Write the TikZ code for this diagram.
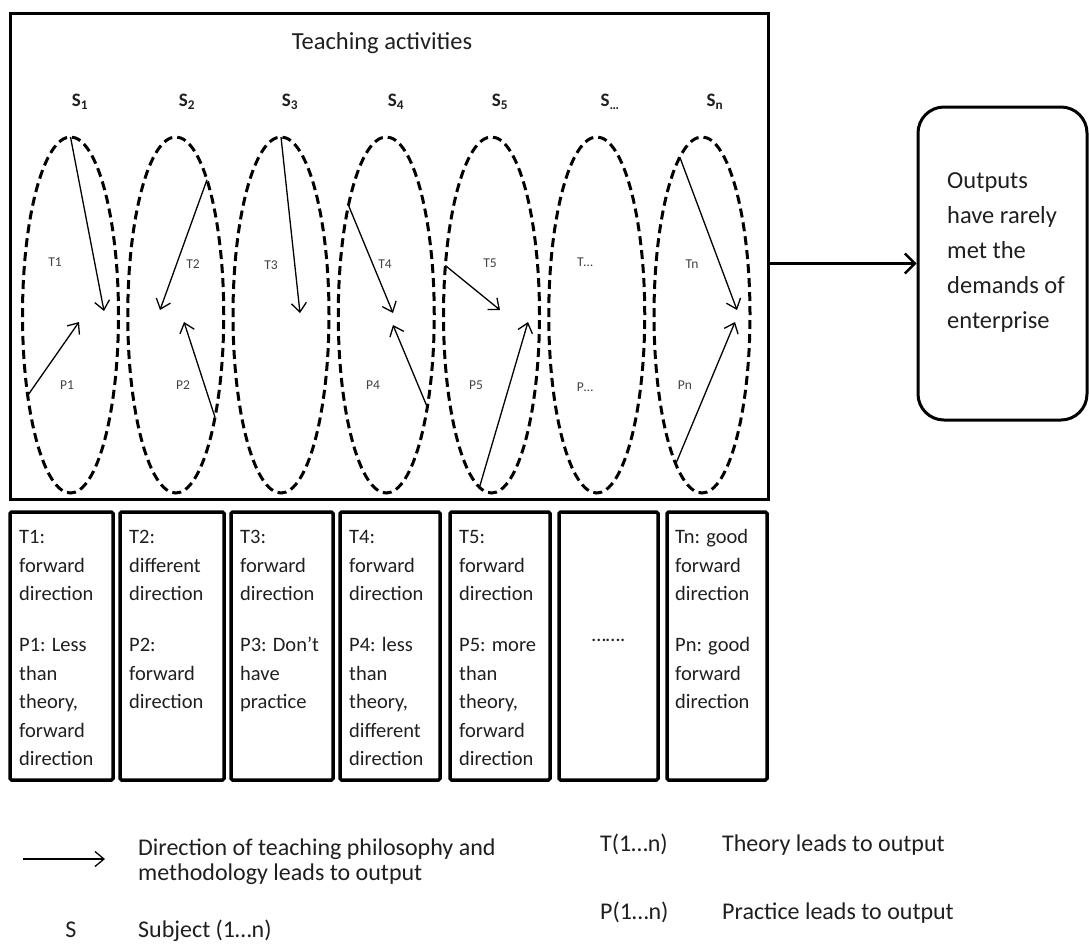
\documentclass[tikz,border=0pt]{standalone}
\usepackage{fontspec}
\setmainfont{Carlito}
\usetikzlibrary{arrows.meta,shapes.geometric,calc}
\definecolor{txt}{gray}{0.12}
\begin{document}
\begin{tikzpicture}[x=1pt,y=-1pt,
  ell/.style={ellipse, draw, line width=3pt, dash pattern=on 9pt off 5pt,
    minimum width=96pt, minimum height=356pt, inner sep=0pt, outer sep=0pt},
  parr/.style={line width=1.3pt, -{Straight Barb[length=9pt,width=15pt]}},
  mainarr/.style={line width=2.4pt, -{Straight Barb[length=10pt,width=20pt]}},
  legarr/.style={line width=1.3pt, -{Straight Barb[length=9pt,width=15pt]}},
  slab/.style={font=\bfseries\fontsize{19}{22}\selectfont, text=txt, inner sep=0pt},
  tlab/.style={font=\fontsize{13.5}{16}\selectfont, text=black!75, inner sep=0pt},
  bigbox/.style={draw, line width=3pt, inner sep=0pt},
  colbox/.style={draw, line width=3.5pt, rounded corners=1.5pt, inner sep=0pt,
    minimum height=268pt},
  boxtext/.style={anchor=north west, inner sep=0pt, align=left, text=txt,
    font=\fontsize{20.5}{28.5}\selectfont},
  legtext/.style={inner sep=0pt, text=txt, font=\fontsize{24}{25}\selectfont},
]
\useasboundingbox (0,0) rectangle (1089,943);

% main box
\node[bigbox, minimum width=758pt, minimum height=486pt] (main) at (389,256) {};
\node[inner sep=0pt, anchor=base, text=txt, font=\fontsize{24.5}{28}\selectfont] (title) at (382,49) {Teaching activities};

% subject labels
\node[slab] (s1) at (80,102) {S\textsubscript{1}};
\node[slab] (s2) at (187,102) {S\textsubscript{2}};
\node[slab] (s3) at (290,102) {S\textsubscript{3}};
\node[slab] (s4) at (396,102) {S\textsubscript{4}};
\node[slab] (s5) at (500,102) {S\textsubscript{5}};
\node[slab] (s6) at (610,102) {S\textsubscript{…}};
\node[slab] (s7) at (715,102) {S\textsubscript{n}};

% ellipses
\node[ell] (e1) at (70.5,315) {};
\node[ell] (e2) at (175.75,315) {};
\node[ell] (e3) at (281,315) {};
\node[ell] (e4) at (386.25,315) {};
\node[ell] (e5) at (491.5,315) {};
\node[ell] (e6) at (596.75,315) {};
\node[ell] (e7) at (702,315) {};

% arrow ends
\coordinate (t1) at (104,311); \coordinate (p1) at (79,322);
\coordinate (t2) at (160,310); \coordinate (p2) at (184,322);
\coordinate (t3) at (300,313);
\coordinate (t4) at (393,313); \coordinate (p4) at (393,325);
\coordinate (t5) at (500,310); \coordinate (p5) at (528,322);
\coordinate (tn) at (737,310); \coordinate (pn) at (735,322);

\draw[parr] (e1.north) -- (t1);
\draw[parr] (e1.242) -- (p1);
\draw[parr] (e2.77) -- (t2);
\draw[parr] (e2.291) -- (p2);
\draw[parr] (e3.north) -- (t3);
\draw[parr] (e4.109) -- (t4);
\draw[parr] (e4.294) -- (p4);
\draw[parr] (e5.133) -- (t5);
\draw[parr] (e5.266) -- (p5);
\draw[parr] (e7.98) -- (tn);
\draw[parr] (e7.260) -- (pn);

% T/P labels
\node[tlab] (lt1) at (55,262) {T1};
\node[tlab] (lp1) at (67,385) {P1};
\node[tlab] (lt2) at (193,264) {T2};
\node[tlab] (lp2) at (183,385) {P2};
\node[tlab] (lt3) at (271,265) {T3};
\node[tlab] (lt4) at (385,264) {T4};
\node[tlab] (lp4) at (373,385) {P4};
\node[tlab] (lt5) at (490,263) {T5};
\node[tlab] (lp5) at (476,385) {P5};
\node[tlab] (lt6) at (585,262) {T…};
\node[tlab] (lp6) at (585,387) {P…};
\node[tlab] (lt7) at (692,264) {Tn};
\node[tlab] (lp7) at (685,385) {Pn};

% output box
\node[draw, line width=3pt, rounded corners=26pt, minimum width=169pt, minimum height=313pt, inner sep=0pt] (out) at (1002.5,263.5) {};
\node[anchor=north west, inner sep=0pt, align=left, text=txt, font=\fontsize{24.5}{35}\selectfont] (outtext) at (947,163.5) {\strut Outputs\\have rarely\\met the\\demands of\\enterprise};
\draw[mainarr] (main.east |- out.west) -- (out.west);

% bottom boxes
\node[colbox, minimum width=103pt] (b1) at (61.5,646) {};
\node[colbox, minimum width=104pt] (b2) at (172,646) {};
\node[colbox, minimum width=102pt] (b3) at (282,646) {};
\node[colbox, minimum width=100pt] (b4) at (390,646) {};
\node[colbox, minimum width=100pt] (b5) at (500,646) {};
\node[colbox, minimum width=99pt] (b6) at (608.5,646) {};
\node[colbox, minimum width=100pt] (b7) at (717,646) {};

\node[boxtext] (bt1) at (19,523.5) {\strut T1:\\forward\\direction\\[22.5pt]P1: Less\\than\\theory,\\forward\\direction};
\node[boxtext] (bt2) at (129,523.5) {\strut T2:\\different\\direction\\[22.5pt]P2:\\forward\\direction};
\node[boxtext] (bt3) at (240,523.5) {\strut T3:\\forward\\direction\\[22.5pt]P3: Don’t\\have\\practice};
\node[boxtext] (bt4) at (349,523.5) {\strut T4:\\forward\\direction\\[22.5pt]P4: less\\than\\theory,\\different\\direction};
\node[boxtext] (bt5) at (459,523.5) {\strut T5:\\forward\\direction\\[22.5pt]P5: more\\than\\theory,\\forward\\direction};
\node[inner sep=0pt, anchor=base, text=txt, font=\fontsize{20.5}{24}\selectfont] (bt6) at (608.5,641) {…….};
\node[boxtext] (bt7) at (675,523.5) {\strut Tn: good\\forward\\direction\\[22.5pt]Pn: good\\forward\\direction};

% legend
\coordinate (la1) at (23,859);
\coordinate (la2) at (105,859);
\draw[legarr] (la1) -- (la2);
\node[legtext, anchor=north west, align=left] (lg1) at (138,837.5) {\strut Direction of teaching philosophy and\\methodology leads to output};
\node[legtext, anchor=base] (lg2) at (71,937) {S};
\node[legtext, anchor=base west] (lg3) at (138,937) {Subject (1…n)};
\node[legtext, anchor=base west] (lg4) at (600,851) {T(1…n)};
\node[legtext, anchor=base west] (lg5) at (722,851) {Theory leads to output};
\node[legtext, anchor=base west] (lg6) at (600,919) {P(1…n)};
\node[legtext, anchor=base west] (lg7) at (722,919) {Practice leads to output};
\end{tikzpicture}
\end{document}
